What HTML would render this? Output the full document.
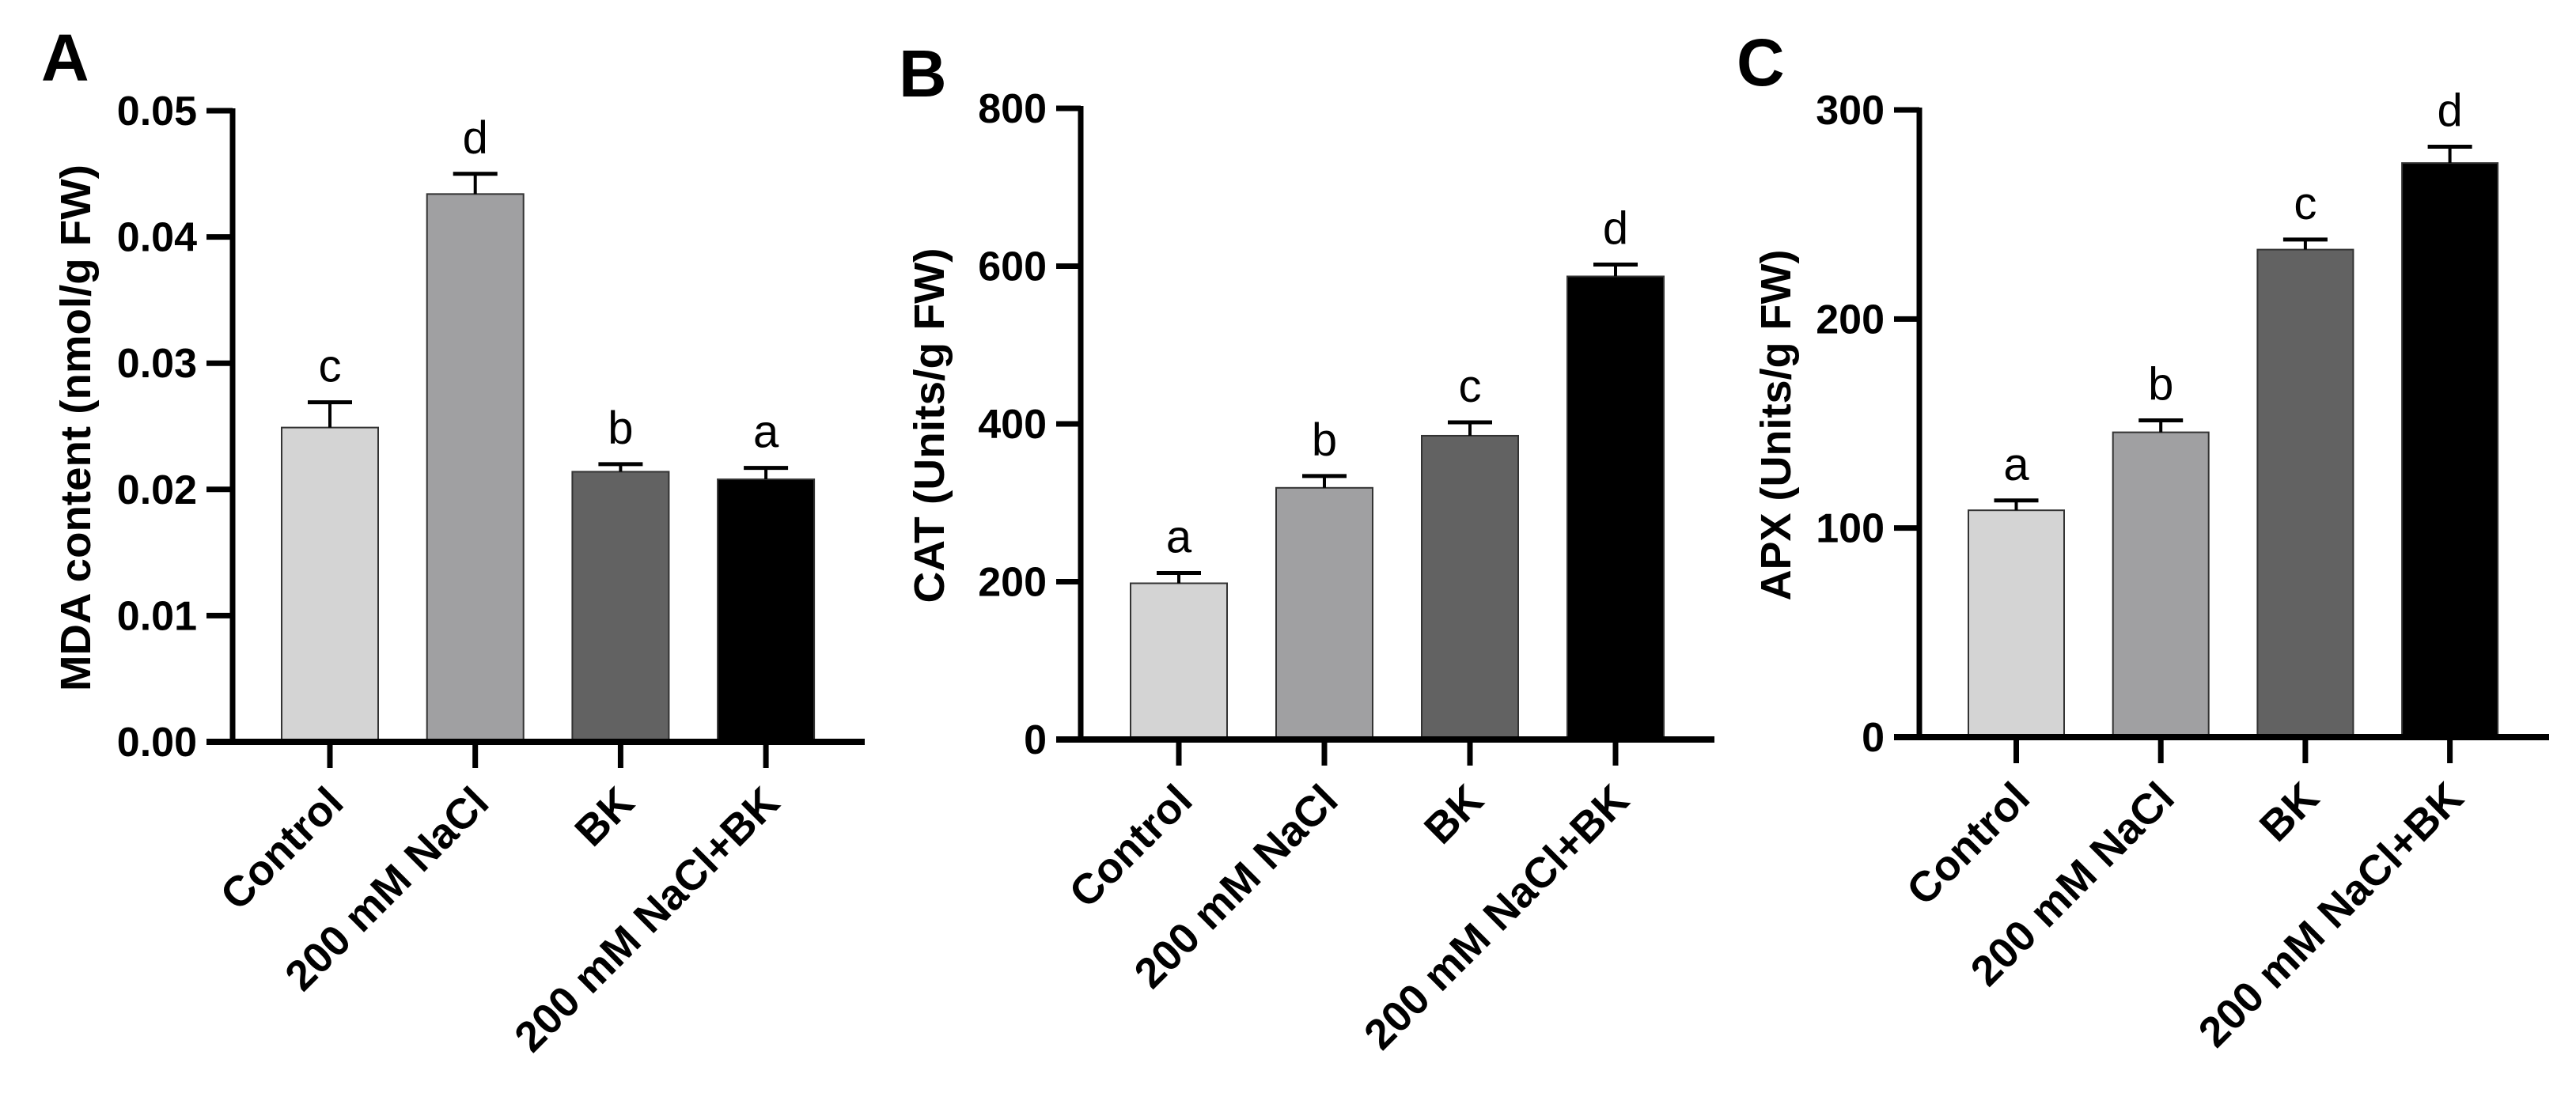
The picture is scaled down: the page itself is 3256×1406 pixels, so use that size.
<!DOCTYPE html>
<html><head><meta charset="utf-8"><style>
html,body{margin:0;padding:0;background:#fff;}
svg{display:block;}
text{font-family:"Liberation Sans",Arial,sans-serif;}
</style></head><body>
<svg id="fig" width="3256" height="1406" viewBox="0 0 3256 1406" xmlns="http://www.w3.org/2000/svg"></svg>
<script>
const categories = ["Control", "200 mM NaCl", "BK", "200 mM NaCl+BK"];
const mdaValues = [0.0249, 0.0434, 0.0214, 0.0208];
const mdaErrors = [0.0020, 0.0016, 0.0006, 0.0009];
const mdaLetters = ["c", "d", "b", "a"];
const mdaTicks = [0, 0.01, 0.02, 0.03, 0.04, 0.05];
const mdaTickLabels = ["0.00", "0.01", "0.02", "0.03", "0.04", "0.05"];
const catValues = [198, 319, 385, 587];
const catErrors = [13, 15, 17, 15];
const catLetters = ["a", "b", "c", "d"];
const catTicks = [0, 200, 400, 600, 800];
const catTickLabels = ["0", "200", "400", "600", "800"];
const apxValues = [108.5, 145.8, 233.2, 274.6];
const apxErrors = [4.7, 5.7, 4.8, 7.8];
const apxLetters = ["a", "b", "c", "d"];
const apxTicks = [0, 100, 200, 300];
const apxTickLabels = ["0", "100", "200", "300"];
const barColors = ["#d4d4d4", "#a0a0a2", "#626262", "#000000"];

const NS = "http://www.w3.org/2000/svg";
const svg = document.getElementById("fig");
function mk(tag, attrs, parent) {
  const e = document.createElementNS(NS, tag);
  for (const k in attrs) e.setAttribute(k, attrs[k]);
  (parent || svg).appendChild(e);
  return e;
}

const panels = [
  {id:"a", letter:"A", lx:52, ly:102, axisX:294, axisStart:261, top:140, zero:938, right:1093, max:0.05,
   bar0:356, step:183.7, bw:122, vals:mdaValues, errs:mdaErrors, lets:mdaLetters, ticks:mdaTicks, tl:mdaTickLabels,
   title:"MDA content (nmol/g FW)", tx:114, tlen:666},
  {id:"b", letter:"B", lx:1136, ly:122, axisX:1366, axisStart:1335, top:137, zero:935, right:2167, max:800,
   bar0:1429, step:184, bw:122, vals:catValues, errs:catErrors, lets:catLetters, ticks:catTicks, tl:catTickLabels,
   title:"CAT (Units/g FW)", tx:1193, tlen:449},
  {id:"c", letter:"C", lx:2195, ly:108, axisX:2426, axisStart:2394, top:139, zero:932, right:3222, max:300,
   bar0:2488, step:182.7, bw:121, vals:apxValues, errs:apxErrors, lets:apxLetters, ticks:apxTicks, tl:apxTickLabels,
   title:"APX (Units/g FW)", tx:2263, tlen:444}
];

panels.forEach(p => {
  const g = mk("g", {});
  
  
  const y = v => p.zero - (v / p.max) * (p.zero - p.top);
  const xc = i => p.bar0 + i * p.step + p.bw / 2;

  const pl = mk("text", {x:p.lx, y:p.ly, "font-size":84, "font-weight":"bold"}, g);
  pl.textContent = p.letter;
  
  

  p.vals.forEach((v, i) => {
    const r = mk("rect", {x:p.bar0 + i * p.step, y:y(v), width:p.bw, height:p.zero - y(v),
      fill:barColors[i], stroke:"#333", "stroke-width":2}, g);
    
    
    const et = y(v + p.errs[i]);
    const e1 = mk("line", {x1:xc(i), x2:xc(i), y1:y(v), y2:et, stroke:"#000", "stroke-width":4}, g);
    
    
    const e2 = mk("line", {x1:xc(i) - 28, x2:xc(i) + 28, y1:et, y2:et, stroke:"#000", "stroke-width":5}, g);
    
    
    const lt = mk("text", {x:xc(i), y:et - 26, "font-size":58, "text-anchor":"middle"}, g);
    lt.textContent = p.lets[i];
    
    
  });

  const ya = mk("line", {x1:p.axisX, x2:p.axisX, y1:p.top - 3, y2:p.zero + 4, stroke:"#000", "stroke-width":7}, g);
  
  
  p.ticks.forEach((t, k) => {
    const tk = mk("line", {x1:p.axisStart, x2:p.axisX, y1:y(t), y2:y(t), stroke:"#000", "stroke-width":7}, g);
    
    
    const tt = mk("text", {x:p.axisStart - 12, y:y(t) + 18, "font-size":52, "font-weight":"bold", "text-anchor":"end"}, g);
    tt.textContent = p.tl[k];
    
    
  });
  const xa = mk("line", {x1:p.axisStart, x2:p.right, y1:p.zero, y2:p.zero, stroke:"#000", "stroke-width":8}, g);
  
  
  categories.forEach((c, i) => {
    const tk = mk("line", {x1:xc(i), x2:xc(i), y1:p.zero, y2:p.zero + 33, stroke:"#000", "stroke-width":7}, g);
    
    
    const px = xc(i) + 20, py = p.zero + 80;
    const tt = mk("text", {x:px, y:py, "font-size":54, "font-weight":"bold", "text-anchor":"end",
      transform:"rotate(-45 " + px + " " + py + ")"}, g);
    tt.textContent = c;
    
    
  });
  const cy = (p.top + p.zero) / 2 + 2;
  const yt = mk("text", {x:p.tx, y:cy, "font-size":54, "font-weight":"bold", "text-anchor":"middle",
    textLength:p.tlen, lengthAdjust:"spacingAndGlyphs", transform:"rotate(-90 " + p.tx + " " + cy + ")"}, g);
  yt.textContent = p.title;
  
  
});
</script>
</body></html>
